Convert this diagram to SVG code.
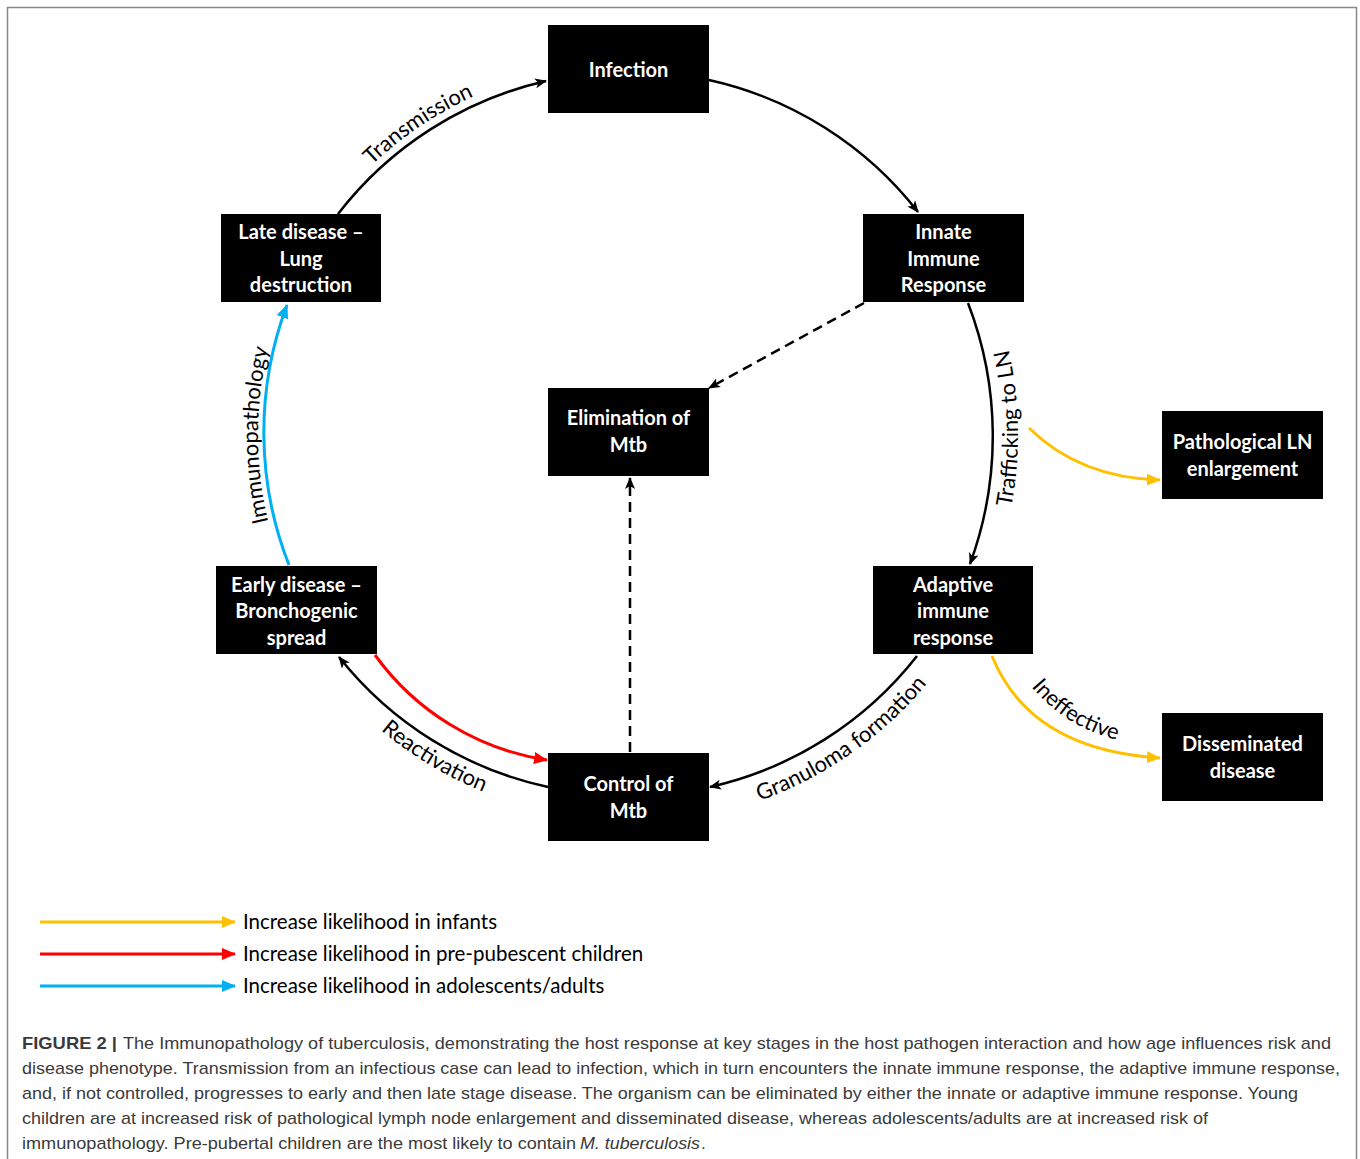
<svg xmlns="http://www.w3.org/2000/svg" width="1360" height="1159" viewBox="0 0 1360 1159">
<style>
.node rect{fill:#000}
.node text{font-family:Lato,"Liberation Sans",sans-serif;font-weight:700;font-size:20px;fill:#fff;text-anchor:middle}
.lbl{font-family:Lato,"Liberation Sans",sans-serif;font-size:22px;fill:#000}
.leg{font-family:Lato,"Liberation Sans",sans-serif;font-size:20.5px;fill:#000}
.cap{font-family:"Liberation Sans",Arial,sans-serif;font-size:17px;fill:#3a3a3a}
.k{fill:none;stroke:#000;stroke-width:2.5}
.d{fill:none;stroke:#000;stroke-width:2.5;stroke-dasharray:10 6}
.y{fill:none;stroke:#FFC000;stroke-width:3}
.r{fill:none;stroke:#FF0000;stroke-width:3}
.b{fill:none;stroke:#00B0F0;stroke-width:3}
</style>
<defs>
<marker id="ak" viewBox="0 0 12 10" refX="11" refY="5" markerWidth="12" markerHeight="10" markerUnits="userSpaceOnUse" orient="auto"><path d="M0,0 L12,5 L0,10 L3,5 Z" fill="#000"/></marker>
<marker id="ay" viewBox="0 0 14 12" refX="13" refY="6" markerWidth="14" markerHeight="12" markerUnits="userSpaceOnUse" orient="auto"><path d="M0,0 L14,6 L0,12 Z" fill="#FFC000"/></marker>
<marker id="ar" viewBox="0 0 14 12" refX="13" refY="6" markerWidth="14" markerHeight="12" markerUnits="userSpaceOnUse" orient="auto"><path d="M0,0 L14,6 L0,12 Z" fill="#FF0000"/></marker>
<marker id="ab" viewBox="0 0 14 12" refX="13" refY="6" markerWidth="14" markerHeight="12" markerUnits="userSpaceOnUse" orient="auto"><path d="M0,0 L14,6 L0,12 Z" fill="#00B0F0"/></marker>
<path id="pTrans" d="M293.6,271.9 A372,372 0 0 1 602,63.9"/>
<path id="pTraf" d="M1006.4,529.3 A390,390 0 0 0 1002.9,327.5"/>
<path id="pGran" d="M727.9,810.8 A389,389 0 0 0 947.2,657.4"/>
<path id="pReac" d="M328.8,677.3 A385,385 0 0 0 554.5,812.9"/>
<path id="pImm" d="M292.7,591.4 A370,370 0 0 1 292.7,278.6"/>
<path id="pInef" d="M1004,643 Q1052,745 1168,746"/>
</defs>
<rect x="7.5" y="7.5" width="1349" height="1170" fill="#fff" stroke="#888" stroke-width="1.5"/>

<g id="connectors">
<path class="k" d="M338,214 A365,365 0 0 1 546,81" marker-end="url(#ak)"/>
<path class="k" d="M709,80 A365,365 0 0 1 918,212" marker-end="url(#ak)"/>
<path class="k" d="M968,303 A370,370 0 0 1 970,564" marker-end="url(#ak)"/>
<path class="k" d="M917,656 A365,365 0 0 1 710,787" marker-end="url(#ak)"/>
<path class="k" d="M548,787 A365,365 0 0 1 339,657" marker-end="url(#ak)"/>
<path class="r" d="M375,655 A260,260 0 0 0 547,760" marker-end="url(#ar)"/>
<path class="b" d="M289,565 A362,362 0 0 1 287,305" marker-end="url(#ab)"/>
<path class="y" d="M1029,428 Q1080,478 1160,480" marker-end="url(#ay)"/>
<path class="y" d="M992,656 Q1030,750 1160,758" marker-end="url(#ay)"/>
<path class="d" d="M864,303 L709,388" marker-end="url(#ak)"/>
<path class="d" d="M630,752 L630,478" marker-end="url(#ak)"/>
<text class="lbl"><textPath href="#pTrans" startOffset="50%" text-anchor="middle">Transmission</textPath></text>
<text class="lbl"><textPath href="#pTraf" startOffset="50%" text-anchor="middle">Trafficking to LN</textPath></text>
<text class="lbl"><textPath href="#pGran" startOffset="50%" text-anchor="middle">Granuloma formation</textPath></text>
<text class="lbl"><textPath href="#pReac" startOffset="50%" text-anchor="middle">Reactivation</textPath></text>
<text class="lbl"><textPath href="#pImm" startOffset="50%" text-anchor="middle">Immunopathology</textPath></text>
<text class="lbl"><textPath href="#pInef" startOffset="50%" text-anchor="middle">Ineffective</textPath></text>
</g>

<g id="infection" class="node"><rect x="548" y="25" width="161" height="88"/><text x="628.5" y="77">Infection</text></g>
<g id="innate" class="node"><rect x="863" y="214" width="161" height="88"/><text x="943.5" y="239">Innate</text><text x="943.5" y="266">Immune</text><text x="943.5" y="292">Response</text></g>
<g id="late" class="node"><rect x="221" y="214" width="160" height="88"/><text x="301" y="239">Late disease –</text><text x="301" y="266">Lung</text><text x="301" y="292">destruction</text></g>
<g id="elimination" class="node"><rect x="548" y="388" width="161" height="88"/><text x="628.5" y="425">Elimination of</text><text x="628.5" y="452">Mtb</text></g>
<g id="pathological" class="node"><rect x="1162" y="411" width="161" height="88"/><text x="1242.5" y="449">Pathological LN</text><text x="1242.5" y="476">enlargement</text></g>
<g id="early" class="node"><rect x="216" y="566" width="161" height="88"/><text x="296.5" y="592">Early disease –</text><text x="296.5" y="618">Bronchogenic</text><text x="296.5" y="645">spread</text></g>
<g id="adaptive" class="node"><rect x="873" y="566" width="160" height="88"/><text x="953" y="592">Adaptive</text><text x="953" y="618">immune</text><text x="953" y="645">response</text></g>
<g id="disseminated" class="node"><rect x="1162" y="713" width="161" height="88"/><text x="1242.5" y="751">Disseminated</text><text x="1242.5" y="778">disease</text></g>
<g id="control" class="node"><rect x="548" y="753" width="161" height="88"/><text x="628.5" y="791">Control of</text><text x="628.5" y="818">Mtb</text></g>

<g id="legend">
<path class="y" d="M40,922 L235,922" marker-end="url(#ay)"/>
<path class="r" d="M40,954 L235,954" marker-end="url(#ar)"/>
<path class="b" d="M40,986 L235,986" marker-end="url(#ab)"/>
<text class="leg" x="243" y="929">Increase likelihood in infants</text>
<text class="leg" x="243" y="961">Increase likelihood in pre-pubescent children</text>
<text class="leg" x="243" y="993">Increase likelihood in adolescents/adults</text>
</g>

<g id="caption">
<text class="cap" x="22" y="1049" font-weight="700" fill="#222" textLength="95" lengthAdjust="spacingAndGlyphs">FIGURE 2 |</text>
<text class="cap" x="123" y="1049" textLength="1208" lengthAdjust="spacingAndGlyphs">The Immunopathology of tuberculosis, demonstrating the host response at key stages in the host pathogen interaction and how age influences risk and</text>
<text class="cap" x="22" y="1074" textLength="1318" lengthAdjust="spacingAndGlyphs">disease phenotype. Transmission from an infectious case can lead to infection, which in turn encounters the innate immune response, the adaptive immune response,</text>
<text class="cap" x="22" y="1099" textLength="1276" lengthAdjust="spacingAndGlyphs">and, if not controlled, progresses to early and then late stage disease. The organism can be eliminated by either the innate or adaptive immune response. Young</text>
<text class="cap" x="22" y="1124" textLength="1186" lengthAdjust="spacingAndGlyphs">children are at increased risk of pathological lymph node enlargement and disseminated disease, whereas adolescents/adults are at increased risk of</text>
<text class="cap" x="22" y="1149" textLength="554" lengthAdjust="spacingAndGlyphs">immunopathology. Pre-pubertal children are the most likely to contain</text>
<text class="cap" x="580" y="1149" font-style="italic" textLength="120" lengthAdjust="spacingAndGlyphs">M. tuberculosis</text>
<text class="cap" x="701" y="1149">.</text>
</g>
</svg>
